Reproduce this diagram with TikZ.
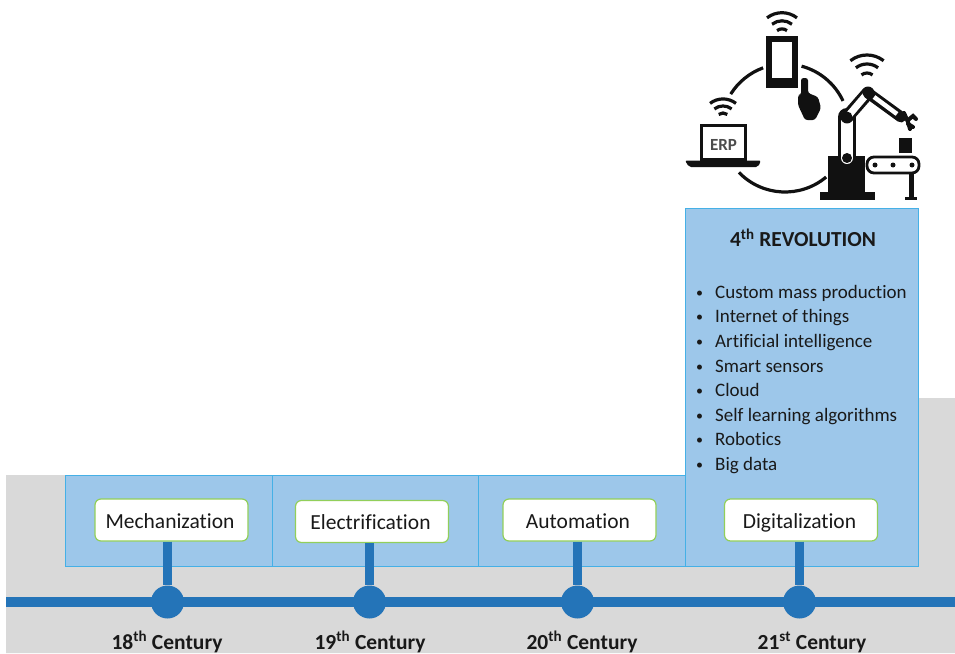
\documentclass[tikz,border=0pt]{standalone}
\usepackage{fontspec}
\setmainfont{Carlito}[Ligatures={TeX,NoCommon}]
\usepackage{xcolor}
\usetikzlibrary{calc}
\definecolor{bandgrey}{HTML}{D9D9D9}
\definecolor{eraFill}{HTML}{9DC7EA}
\definecolor{eraEdge}{HTML}{45B0E6}
\definecolor{lineblue}{HTML}{2474B8}
\definecolor{pillgreen}{HTML}{92CF5A}
\definecolor{iconblack}{HTML}{111111}
\tikzstyle{era} = [rectangle, draw=eraEdge, fill=eraFill, line width=1.2pt]
\tikzstyle{pill} = [rectangle, rounded corners=6pt, minimum width=153pt, minimum height=42pt, inner sep=0pt, text height=18pt, text depth=2pt, execute at end node={\kern3pt}, draw=pillgreen, line width=1.2pt, fill=white, font=\fontsize{21.5}{24}\selectfont, text=black!90]
\tikzstyle{dot} = [circle, minimum size=33pt, inner sep=0pt, fill=lineblue]
\tikzstyle{stem} = [lineblue, line width=9.5pt]
\tikzstyle{century} = [anchor=base, font=\bfseries\fontsize{21.5}{24}\selectfont, text=black!90]
\tikzstyle{icon} = [iconblack, line width=3.2pt]
\newcommand{\wifiwaves}[2]{% centre coordinate, scale
  \draw [icon] ([shift={(52:#2*27pt)}]#1) arc[start angle=52, end angle=128, radius=#2*27pt];
  \draw [icon] ([shift={(52:#2*18pt)}]#1) arc[start angle=52, end angle=128, radius=#2*18pt];
  \draw [icon] ([shift={(52:#2*9pt)}]#1) arc[start angle=52, end angle=128, radius=#2*9pt];
}
\newcommand{\listdot}{\makebox[19pt][l]{\fontsize{14}{14}\selectfont\raisebox{1pt}{\textbullet}}}
\begin{document}
\begin{tikzpicture}[x=1pt, y=-1pt]
\useasboundingbox (0,0) rectangle (955,653);
\fill [white] (0,0) rectangle (955,653);
\fill [bandgrey] (6,475) -- (685,475) -- (685,398) -- (955,398) -- (955,653) -- (6,653) -- cycle;

\node (mech) [era, anchor=north west, minimum width=207pt, minimum height=91pt] at (65,475) {};
\node (elec) [era, anchor=north west, minimum width=206pt, minimum height=91pt] at (272,475) {};
\node (auto) [era, anchor=north west, minimum width=207pt, minimum height=91pt] at (478,475) {};
\node (digi) [era, anchor=north west, minimum width=233pt, minimum height=358pt] at (685,208) {};

\node (rev) [font=\bfseries\fontsize{21.4}{24}\selectfont, text=black!90] at (803,238) {4\textsuperscript{th} REVOLUTION};
\node (list) [anchor=north west, inner sep=0pt, align=left, font=\fontsize{19}{24.6}\selectfont, text=black!90] at (696,285) {%
\listdot Custom mass production\\
\listdot Internet of things\\
\listdot Artificial intelligence\\
\listdot Smart sensors\\
\listdot Cloud\\
\listdot Self learning algorithms\\
\listdot Robotics\\
\listdot Big data};

\node (pmech) [pill] at (171.5,520) {Mechanization};
\node (pelec) [pill] at (372,521.5) {Electrification};
\node (pauto) [pill] at (579.5,520) {Automation};
\node (pdigi) [pill] at (801,520) {Digitalization};

\node (d18) [dot] at (167.5,602) {};
\node (d19) [dot] at (369.5,602) {};
\node (d20) [dot] at (577.5,602) {};
\node (d21) [dot] at (799.5,602) {};
\coordinate (lineL) at (6,602);
\coordinate (lineR) at (955,602);
\draw [lineblue, line width=9.5pt] (lineL) -- (lineR);

\draw [stem] (pmech.south -| d18) -- (d18);
\draw [stem] (pelec.south -| d19) -- (d19);
\draw [stem] (pauto.south -| d20) -- (d20);
\draw [stem] (pdigi.south -| d21) -- (d21);

\node (c18) [century] at (167,649) {18\textsuperscript{th} Century};
\node (c19) [century] at (370,649) {19\textsuperscript{th} Century};
\node (c20) [century] at (582,649) {20\textsuperscript{th} Century};
\node (c21) [century] at (812,649) {21\textsuperscript{st} Century};

% icon above the fourth box
\coordinate (ring) at (785,128);
\draw [icon] ([shift={(148:64pt)}]ring) arc[start angle=148, end angle=110, radius=64pt];
\draw [icon] ([shift={(75:64pt)}]ring) arc[start angle=75, end angle=25, radius=64pt];
\draw [icon] ([shift={(224:64pt)}]ring) arc[start angle=224, end angle=310, radius=64pt];

% phone and hand
\draw [iconblack, line width=5.5pt] (769,39) rectangle (795,85);
\fill [iconblack] (769,78) rectangle (795,85);
\coordinate (wphone) at (782,37);
\wifiwaves{wphone}{0.9}
\fill [iconblack, rounded corners=2.5pt] (801,78) -- (808,78) -- (808,93) -- (818,97) -- (821,108) -- (815,120) -- (805,120) -- (798,105) -- (798,95) -- (801,95) -- cycle;

% laptop
\draw [iconblack, line width=3.5pt] (701.5,125.5) rectangle (745.5,160);
\fill [iconblack, rounded corners=2pt] (685,160.5) -- (761,160.5) -- (758,167) -- (689,167) -- cycle;
\node (erp) [font=\bfseries\fontsize{17}{18}\selectfont, text=iconblack!75] at (723.5,144.5) {ERP};
\coordinate (wlaptop) at (723,120);
\wifiwaves{wlaptop}{0.78}

% robot
\fill [iconblack] (828,156) rectangle (865,192);
\fill [iconblack] (820,192) rectangle (875,200);
\draw [iconblack, line width=18pt, line cap=round] (847,117) -- (847,158);
\draw [white, line width=12pt, line cap=round] (847,117) -- (847,158);
\draw [iconblack, line width=13pt, line cap=round] (847,117) -- (868,93);
\draw [white, line width=7pt, line cap=round] (849,115) -- (866,95);
\draw [iconblack, line width=11pt, line cap=round] (868,93) -- (901,117);
\draw [white, line width=4.5pt] (874,97) -- (897,114);
\fill [iconblack] (847,117) circle (5.5pt);
\fill [iconblack] (847,158) circle (5pt);
\fill [iconblack] (868,94) circle (3pt);
\draw [iconblack, line width=4pt, line cap=round] (904,113) -- (908,122) -- (910,129);
\draw [iconblack, line width=4pt, line cap=round] (908,120) -- (913,116) -- (916,119);
\draw [iconblack, line width=4pt, line cap=round] (908,124) -- (913,127);
\coordinate (wrobot) at (867,82);
\wifiwaves{wrobot}{1}

% conveyor
\fill [iconblack] (899,138) rectangle (912,153);
\draw [iconblack, line width=2.8pt, rounded corners=7pt] (867,157) rectangle (919,173);
\fill [iconblack] (875,165) circle (2.5pt);
\fill [iconblack] (893,165) circle (2.5pt);
\fill [iconblack] (912,165) circle (2.5pt);
\fill [iconblack] (909,173) rectangle (914,197);
\fill [iconblack] (905,197) rectangle (917,200);
\end{tikzpicture}
\end{document}
